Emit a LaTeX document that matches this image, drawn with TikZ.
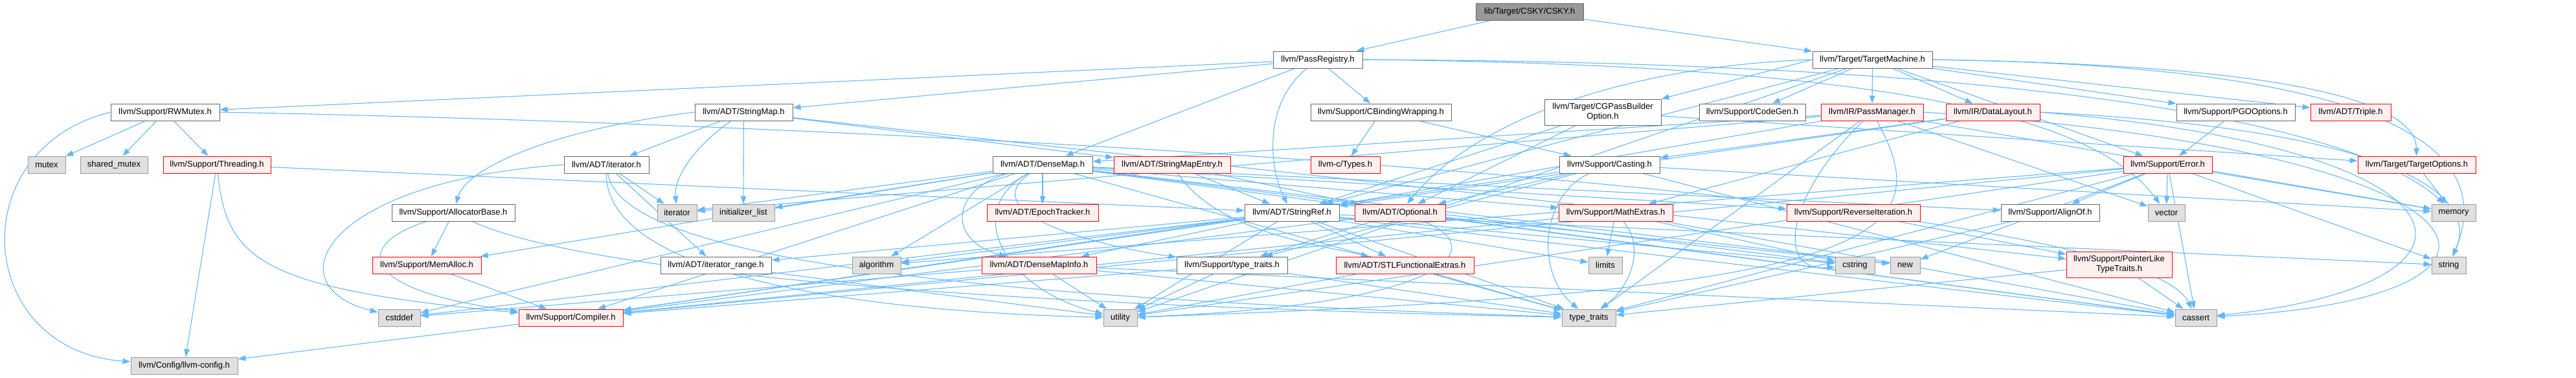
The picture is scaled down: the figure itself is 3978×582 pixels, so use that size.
\documentclass[tikz,border=0pt]{standalone}
\usepackage{fontspec}
\setmainfont{Liberation Sans}
\usetikzlibrary{arrows.meta,backgrounds}
\definecolor{edgec}{HTML}{63B8FF}
\definecolor{wbord}{HTML}{666666}
\definecolor{rbord}{HTML}{FF0000}
\definecolor{rfill}{HTML}{FFF0F0}
\definecolor{gbord}{HTML}{999999}
\definecolor{gfill}{HTML}{E0E0E0}
\definecolor{cfill}{HTML}{999999}
\begin{document}
\begin{tikzpicture}[x=1pt,y=-1pt,
  box/.style={draw, line width=1pt, inner sep=0pt, minimum height=26pt, font=\fontsize{13}{15}\selectfont, align=center},
  wbox/.style={box, draw=wbord, fill=white},
  rbox/.style={box, draw=rbord, fill=rfill},
  gbox/.style={box, draw=gbord, fill=gfill},
  cbox/.style={box, draw=wbord, fill=cfill},
  tall/.style={minimum height=40pt},
  e/.style={draw=edgec, line width=1.1pt, -{Triangle[length=12pt,width=8.5pt]}}
]
\useasboundingbox (0,0) rectangle (3978,582);
% row 0
\node[cbox, minimum width=166pt] (csky) at (2362,18) {lib/Target/CSKY/CSKY.h};
% row 1
\node[wbox, minimum width=138pt] (passreg) at (2035,92) {llvm/PassRegistry.h};
\node[wbox, minimum width=185pt] (tm) at (2891.5,92) {llvm/Target/TargetMachine.h};
% row 2
\node[wbox, minimum width=168pt] (rwmutex) at (255,173) {llvm/Support/RWMutex.h};
\node[wbox, minimum width=151pt] (stringmap) at (1148.5,173) {llvm/ADT/StringMap.h};
\node[wbox, minimum width=217pt] (cbinding) at (2132.5,173) {llvm/Support/CBindingWrapping.h};
\node[wbox, tall, minimum width=180pt] (cgpass) at (2475,173) {llvm/Target/CGPassBuilder\\Option.h};
\node[wbox, minimum width=164pt] (codegen) at (2706,173) {llvm/Support/CodeGen.h};
\node[rbox, minimum width=158pt] (passmanager) at (2891,173) {llvm/IR/PassManager.h};
\node[rbox, minimum width=145pt] (datalayout) at (3077.5,173) {llvm/IR/DataLayout.h};
\node[wbox, minimum width=183pt] (pgo) at (3452.5,173) {llvm/Support/PGOOptions.h};
\node[rbox, minimum width=124pt] (triple) at (3630,173) {llvm/ADT/Triple.h};
% row 3
\node[gbox, minimum width=58pt] (mutex) at (72,254) {mutex};
\node[gbox, minimum width=104pt] (sharedmutex) at (176,254) {shared\_mutex};
\node[rbox, minimum width=166pt] (threading) at (335,254) {llvm/Support/Threading.h};
\node[wbox, minimum width=131pt] (iteratorh) at (936.5,254) {llvm/ADT/iterator.h};
\node[wbox, minimum width=154pt] (densemap) at (1610,254) {llvm/ADT/DenseMap.h};
\node[rbox, minimum width=180pt] (stringmapentry) at (1810,254) {llvm/ADT/StringMapEntry.h};
\node[rbox, minimum width=107pt] (types) at (2077.5,254) {llvm-c/Types.h};
\node[wbox, minimum width=155pt] (casting) at (2485.5,254) {llvm/Support/Casting.h};
\node[rbox, minimum width=137pt] (error) at (3347.5,254) {llvm/Support/Error.h};
\node[rbox, minimum width=182pt] (targetoptions) at (3732,254) {llvm/Target/TargetOptions.h};
% row 4
\node[wbox, minimum width=190pt] (allocatorbase) at (700,328) {llvm/Support/AllocatorBase.h};
\node[gbox, minimum width=61pt] (iterator) at (1045.5,328) {iterator};
\node[gbox, minimum width=96pt] (initlist) at (1148,328) {initializer\_list};
\node[rbox, minimum width=172pt] (epoch) at (1610,328) {llvm/ADT/EpochTracker.h};
\node[wbox, minimum width=146pt] (stringref) at (1995,328) {llvm/ADT/StringRef.h};
\node[rbox, minimum width=140pt] (optional) at (2162,328) {llvm/ADT/Optional.h};
\node[rbox, minimum width=176pt] (mathextras) at (2495,328) {llvm/Support/MathExtras.h};
\node[rbox, minimum width=206pt] (reverseit) at (2862,328) {llvm/Support/ReverseIteration.h};
\node[wbox, minimum width=152pt] (alignof) at (3166,328) {llvm/Support/AlignOf.h};
\node[gbox, minimum width=57pt] (vector) at (3345.5,328) {vector};
\node[gbox, minimum width=68pt] (memory) at (3789,328) {memory};
% row 5
\node[rbox, minimum width=168pt] (memalloc) at (659,409) {llvm/Support/MemAlloc.h};
\node[wbox, minimum width=171pt] (iterrange) at (1105.5,409) {llvm/ADT/iterator\_range.h};
\node[gbox, minimum width=75pt] (algorithm) at (1353.5,409) {algorithm};
\node[rbox, minimum width=177pt] (densemapinfo) at (1604.5,409) {llvm/ADT/DenseMapInfo.h};
\node[wbox, minimum width=171pt] (supptt) at (1902.5,409) {llvm/Support/type\_traits.h};
\node[rbox, minimum width=213pt] (stlfe) at (2169.5,409) {llvm/ADT/STLFunctionalExtras.h};
\node[gbox, minimum width=52pt] (limits) at (2479,409) {limits};
\node[gbox, minimum width=61pt] (cstring) at (2864.5,409) {cstring};
\node[gbox, minimum width=46pt] (new) at (2942,409) {new};
\node[rbox, tall, minimum width=163pt] (pointerlike) at (3272.5,408) {llvm/Support/PointerLike\\TypeTraits.h};
\node[gbox, minimum width=53pt] (string) at (3781.5,409) {string};
% row 6
\node[gbox, minimum width=65pt] (cstddef) at (616.5,490) {cstddef};
\node[rbox, minimum width=161pt] (compiler) at (881.5,490) {llvm/Support/Compiler.h};
\node[gbox, minimum width=52pt] (utility) at (1730,490) {utility};
\node[gbox, minimum width=83pt] (typetraits) at (2453.5,490) {type\_traits};
\node[gbox, minimum width=64pt] (cassert) at (3391,490) {cassert};
% row 7
\node[gbox, minimum width=165pt] (config) at (284.5,564) {llvm/Config/llvm-config.h};

\begin{pgfonlayer}{background}
% CSKY
\draw[e] (csky) -- (passreg);
\draw[e] (csky) -- (tm);
% PassRegistry
\draw[e] (passreg) -- (rwmutex);
\draw[e] (passreg) -- (stringmap);
\draw[e] (passreg) -- (densemap);
\draw[e] (passreg) .. controls (1950,160) and (1960,260) .. (stringref);
\draw[e] (passreg) -- (cbinding);
\draw[e] (passreg.east) .. controls (3200,96) and (3650,200) .. (memory);
\draw[e] (passreg.east) .. controls (3000,100) and (3250,200) .. (vector);
% TargetMachine
\draw[e] (tm) -- (codegen);
\draw[e] (tm) -- (passmanager);
\draw[e] (tm) -- (datalayout);
\draw[e] (tm) -- (pgo);
\draw[e] (tm) -- (triple);
\draw[e] (tm) -- (error);
\draw[e] (tm.west) -- (cgpass.north east);
\draw[e] (tm) -- (stringref);
\draw[e] (tm.west) .. controls (2550,100) and (2290,170) .. (optional);
\draw[e] (tm) -- (utility);
\draw[e] (tm.east) .. controls (3500,100) and (3730,150) .. (targetoptions);
\draw[e] (tm.east) .. controls (3600,100) and (3870,200) .. (string);
% RWMutex
\draw[e] (rwmutex) -- (mutex);
\draw[e] (rwmutex) -- (sharedmutex);
\draw[e] (rwmutex) -- (threading);
\draw[e] (rwmutex.west) .. controls (-60,230) and (-40,540) .. (config);
\draw[e] (rwmutex.east) .. controls (1500,195) and (3300,300) .. (cassert);
% Threading
\draw[e] (threading) -- (config);
\draw[e] (threading) .. controls (350,400) and (400,445) .. (compiler);
\draw[e] (threading) -- (stringref);
% StringMap
\draw[e] (stringmap) -- (iteratorh);
\draw[e] (stringmap) .. controls (1080,220) and (1040,270) .. (iterator);
\draw[e] (stringmap) -- (initlist);
\draw[e] (stringmap.west) .. controls (850,200) and (720,260) .. (allocatorbase);
\draw[e] (stringmap) -- (stringmapentry);
\draw[e] (stringmap) -- (pointerlike);
% iterator.h
\draw[e] (iteratorh) -- (iterator);
\draw[e] (iteratorh) -- (iterrange);
\draw[e] (iteratorh.west) .. controls (500,280) and (420,440) .. (cstddef);
\draw[e] (iteratorh) .. controls (960,400) and (1500,460) .. (typetraits);
\draw[e] (iteratorh) .. controls (935,420) and (1300,480) .. (utility);
% AllocatorBase
\draw[e] (allocatorbase) -- (memalloc);
\draw[e] (allocatorbase) .. controls (540,380) and (560,450) .. (compiler);
\draw[e] (allocatorbase) .. controls (900,420) and (1500,470) .. (typetraits);
% MemAlloc / Compiler
\draw[e] (memalloc) -- (compiler);
\draw[e] (compiler) -- (config);
% DenseMap
\draw[e] (densemap) -- (epoch);
\draw[e] (densemap) .. controls (1470,290) and (1460,370) .. (densemapinfo);
\draw[e] (densemap) -- (alignof);
\draw[e] (densemap) -- (compiler);
\draw[e] (densemap) -- (mathextras);
\draw[e] (densemap) -- (memalloc);
\draw[e] (densemap) -- (reverseit);
\draw[e] (densemap) .. controls (1500,330) and (1700,380) .. (supptt);
\draw[e] (densemap) -- (algorithm);
\draw[e] (densemap) -- (cassert);
\draw[e] (densemap) -- (cstddef);
\draw[e] (densemap) -- (cstring);
\draw[e] (densemap) -- (initlist);
\draw[e] (densemap) -- (iterator);
\draw[e] (densemap) -- (new);
\draw[e] (densemap) -- (typetraits);
\draw[e] (densemap) .. controls (1480,330) and (1560,450) .. (utility);
% StringMapEntry
\draw[e] (stringmapentry) -- (stringref);
\draw[e] (stringmapentry) -- (optional);
\draw[e] (stringmapentry) .. controls (1880,360) and (2050,380) .. (stlfe);
% StringRef
\draw[e] (stringref) -- (densemapinfo);
\draw[e] (stringref) -- (stlfe);
\draw[e] (stringref) -- (iterrange);
\draw[e] (stringref) -- (compiler);
\draw[e] (stringref) -- (algorithm);
\draw[e] (stringref) -- (cassert);
\draw[e] (stringref) -- (cstddef);
\draw[e] (stringref) -- (cstring);
\draw[e] (stringref) -- (limits);
\draw[e] (stringref) -- (string);
\draw[e] (stringref) -- (typetraits);
\draw[e] (stringref) -- (utility);
% Optional
\draw[e] (optional) -- (compiler);
\draw[e] (optional) -- (supptt);
\draw[e] (optional) -- (cassert);
\draw[e] (optional) -- (new);
\draw[e] (optional) .. controls (2300,380) and (2250,470) .. (utility);
% DenseMapInfo
\draw[e] (densemapinfo) -- (utility);
\draw[e] (densemapinfo) -- (typetraits);
\draw[e] (densemapinfo) -- (cassert);
\draw[e] (densemapinfo) -- (cstddef);
% support type_traits
\draw[e] (supptt) -- (compiler);
\draw[e] (supptt) -- (typetraits);
\draw[e] (supptt) -- (utility);
% STLFunctionalExtras
\draw[e] (stlfe) -- (typetraits);
\draw[e] (stlfe) -- (utility);
% MathExtras
\draw[e] (mathextras) -- (limits);
\draw[e] (mathextras) .. controls (2540,380) and (2520,440) .. (typetraits);
\draw[e] (mathextras) -- (compiler);
\draw[e] (mathextras) -- (cassert);
\draw[e] (mathextras) -- (cstring);
% Casting
\draw[e] (casting) -- (optional);
\draw[e] (casting) -- (compiler);
\draw[e] (casting) -- (supptt);
\draw[e] (casting) -- (cassert);
\draw[e] (casting) -- (memory);
\draw[e] (casting) .. controls (2380,300) and (2370,420) .. (typetraits);
% AlignOf, ReverseIteration, PointerLike
\draw[e] (alignof) -- (typetraits);
\draw[e] (reverseit) -- (pointerlike);
\draw[e] (pointerlike) -- (cassert);
\draw[e] (pointerlike) -- (typetraits);
% Error
\draw[e] (error) -- (alignof);
\draw[e] (error) -- (compiler);
\draw[e] (error) -- (algorithm);
\draw[e] (error) -- (cassert);
\draw[e] (error) -- (memory);
\draw[e] (error) -- (new);
\draw[e] (error) -- (string);
\draw[e] (error) -- (typetraits);
\draw[e] (error) -- (utility);
\draw[e] (error) -- (vector);
% PGOOptions, CBindingWrapping, CGPassBuilderOption
\draw[e] (pgo) -- (error);
\draw[e] (cbinding) -- (types);
\draw[e] (cbinding) -- (casting);
\draw[e] (cgpass) -- (optional);
\draw[e] (cgpass) -- (stringref);
\draw[e] (cgpass) -- (targetoptions);
% PassManager
\draw[e] (passmanager) -- (densemap);
\draw[e] (passmanager) -- (stringref);
\draw[e] (passmanager.east) .. controls (3900,235) and (3960,460) .. (cassert);
\draw[e] (passmanager) .. controls (2760,300) and (2740,420) .. (cstring);
\draw[e] (passmanager) -- (iterator);
\draw[e] (passmanager) -- (memory);
\draw[e] (passmanager) -- (typetraits);
\draw[e] (passmanager) .. controls (3000,370) and (2900,450) .. (utility);
\draw[e] (passmanager) -- (vector);
% DataLayout
\draw[e] (datalayout) -- (stringref);
\draw[e] (datalayout) -- (casting);
\draw[e] (datalayout) -- (mathextras);
\draw[e] (datalayout.east) .. controls (3850,230) and (3880,440) .. (cassert);
\draw[e] (datalayout.east) .. controls (3700,200) and (3830,300) .. (string);
% TargetOptions, iterator_range
\draw[e] (targetoptions) -- (memory);
\draw[e] (iterrange) -- (utility);
\end{pgfonlayer}
\end{tikzpicture}
\end{document}
